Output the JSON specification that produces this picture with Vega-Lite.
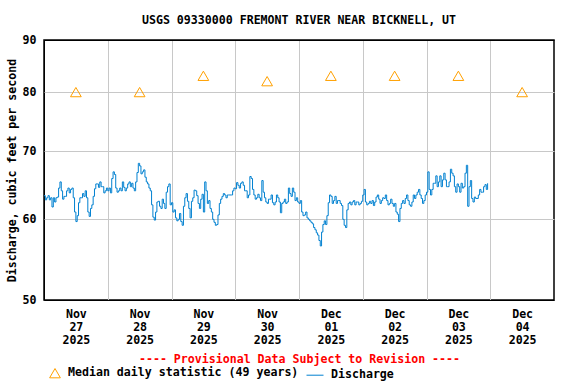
{
  "$schema": "https://vega.github.io/schema/vega-lite/v6.json",
  "width": 510,
  "height": 260,
  "autosize": {"type": "none"},
  "padding": {"left": 44, "top": 40, "right": 22, "bottom": 84},
  "title": {"text": "USGS 09330000 FREMONT RIVER NEAR BICKNELL, UT", "frame": "group", "anchor": "middle", "font": "DejaVu Sans Mono", "fontWeight": "bold", "fontSize": 11.6, "color": "black", "offset": 7},
  "datasets": {
    "q": [
      {"t":"2025-11-27T00:00","v":63.3},{"t":"2025-11-27T01:00","v":63.0},{"t":"2025-11-27T02:00","v":62.7},{"t":"2025-11-27T03:00","v":61.7},{"t":"2025-11-27T04:00","v":62.4},{"t":"2025-11-27T05:00","v":63.1},{"t":"2025-11-27T06:00","v":65.3},{"t":"2025-11-27T07:00","v":62.8},{"t":"2025-11-27T08:00","v":63.2},{"t":"2025-11-27T09:00","v":64.4},{"t":"2025-11-27T10:00","v":64.2},{"t":"2025-11-27T11:00","v":63.0},{"t":"2025-11-27T12:00","v":59.7},{"t":"2025-11-27T13:00","v":62.3},{"t":"2025-11-27T14:00","v":63.0},{"t":"2025-11-27T15:00","v":63.2},{"t":"2025-11-27T16:00","v":63.0},{"t":"2025-11-27T17:00","v":60.4},{"t":"2025-11-27T18:00","v":62.0},{"t":"2025-11-27T19:00","v":64.3},{"t":"2025-11-27T20:00","v":65.0},{"t":"2025-11-27T21:00","v":65.3},{"t":"2025-11-27T22:00","v":64.6},{"t":"2025-11-27T23:00","v":64.0},
      {"t":"2025-11-28T00:00","v":64.0},{"t":"2025-11-28T01:00","v":63.7},{"t":"2025-11-28T02:00","v":66.8},{"t":"2025-11-28T03:00","v":64.4},{"t":"2025-11-28T04:00","v":64.0},{"t":"2025-11-28T05:00","v":64.0},{"t":"2025-11-28T06:00","v":64.5},{"t":"2025-11-28T07:00","v":64.4},{"t":"2025-11-28T08:00","v":65.3},{"t":"2025-11-28T09:00","v":65.1},{"t":"2025-11-28T10:00","v":64.0},{"t":"2025-11-28T11:00","v":66.7},{"t":"2025-11-28T12:00","v":67.7},{"t":"2025-11-28T13:00","v":66.8},{"t":"2025-11-28T14:00","v":66.0},{"t":"2025-11-28T15:00","v":65.0},{"t":"2025-11-28T16:00","v":64.0},{"t":"2025-11-28T17:00","v":60.3},{"t":"2025-11-28T18:00","v":61.0},{"t":"2025-11-28T19:00","v":62.5},{"t":"2025-11-28T20:00","v":61.5},{"t":"2025-11-28T21:00","v":62.2},{"t":"2025-11-28T22:00","v":63.8},{"t":"2025-11-28T23:00","v":65.0},
      {"t":"2025-11-29T00:00","v":62.3},{"t":"2025-11-29T01:00","v":61.3},{"t":"2025-11-29T02:00","v":59.8},{"t":"2025-11-29T03:00","v":60.8},{"t":"2025-11-29T04:00","v":59.2},{"t":"2025-11-29T05:00","v":63.0},{"t":"2025-11-29T06:00","v":62.5},{"t":"2025-11-29T07:00","v":60.2},{"t":"2025-11-29T08:00","v":63.0},{"t":"2025-11-29T09:00","v":64.0},{"t":"2025-11-29T10:00","v":62.2},{"t":"2025-11-29T11:00","v":62.8},{"t":"2025-11-29T12:00","v":61.0},{"t":"2025-11-29T13:00","v":64.0},{"t":"2025-11-29T14:00","v":62.6},{"t":"2025-11-29T15:00","v":61.0},{"t":"2025-11-29T16:00","v":59.6},{"t":"2025-11-29T17:00","v":59.3},{"t":"2025-11-29T18:00","v":62.2},{"t":"2025-11-29T19:00","v":63.2},{"t":"2025-11-29T20:00","v":63.4},{"t":"2025-11-29T21:00","v":63.4},{"t":"2025-11-29T22:00","v":63.4},{"t":"2025-11-29T23:00","v":64.0},
      {"t":"2025-11-30T00:00","v":64.3},{"t":"2025-11-30T01:00","v":64.8},{"t":"2025-11-30T02:00","v":65.1},{"t":"2025-11-30T03:00","v":64.8},{"t":"2025-11-30T04:00","v":64.0},{"t":"2025-11-30T05:00","v":63.4},{"t":"2025-11-30T06:00","v":65.8},{"t":"2025-11-30T07:00","v":63.4},{"t":"2025-11-30T08:00","v":63.0},{"t":"2025-11-30T09:00","v":63.0},{"t":"2025-11-30T10:00","v":65.5},{"t":"2025-11-30T11:00","v":63.0},{"t":"2025-11-30T12:00","v":62.2},{"t":"2025-11-30T13:00","v":62.8},{"t":"2025-11-30T14:00","v":62.3},{"t":"2025-11-30T15:00","v":62.4},{"t":"2025-11-30T16:00","v":63.0},{"t":"2025-11-30T17:00","v":60.9},{"t":"2025-11-30T18:00","v":62.4},{"t":"2025-11-30T19:00","v":62.2},{"t":"2025-11-30T20:00","v":64.4},{"t":"2025-11-30T21:00","v":63.2},{"t":"2025-11-30T22:00","v":63.8},{"t":"2025-11-30T23:00","v":63.0},
      {"t":"2025-12-01T00:00","v":62.2},{"t":"2025-12-01T01:00","v":61.0},{"t":"2025-12-01T02:00","v":60.6},{"t":"2025-12-01T03:00","v":60.2},{"t":"2025-12-01T04:00","v":59.8},{"t":"2025-12-01T05:00","v":59.4},{"t":"2025-12-01T06:00","v":58.6},{"t":"2025-12-01T07:00","v":57.9},{"t":"2025-12-01T08:00","v":56.5},{"t":"2025-12-01T09:00","v":59.3},{"t":"2025-12-01T10:00","v":59.3},{"t":"2025-12-01T11:00","v":62.3},{"t":"2025-12-01T12:00","v":63.2},{"t":"2025-12-01T13:00","v":62.6},{"t":"2025-12-01T14:00","v":62.2},{"t":"2025-12-01T15:00","v":62.6},{"t":"2025-12-01T16:00","v":61.9},{"t":"2025-12-01T17:00","v":59.2},{"t":"2025-12-01T18:00","v":61.3},{"t":"2025-12-01T19:00","v":62.4},{"t":"2025-12-01T20:00","v":62.4},{"t":"2025-12-01T21:00","v":62.0},{"t":"2025-12-01T22:00","v":62.4},{"t":"2025-12-01T23:00","v":62.2},
      {"t":"2025-12-02T00:00","v":63.4},{"t":"2025-12-02T01:00","v":62.4},{"t":"2025-12-02T02:00","v":62.2},{"t":"2025-12-02T03:00","v":62.2},{"t":"2025-12-02T04:00","v":61.9},{"t":"2025-12-02T05:00","v":63.1},{"t":"2025-12-02T06:00","v":62.8},{"t":"2025-12-02T07:00","v":62.6},{"t":"2025-12-02T08:00","v":62.9},{"t":"2025-12-02T09:00","v":62.6},{"t":"2025-12-02T10:00","v":62.2},{"t":"2025-12-02T11:00","v":62.2},{"t":"2025-12-02T12:00","v":62.2},{"t":"2025-12-02T13:00","v":60.7},{"t":"2025-12-02T14:00","v":61.5},{"t":"2025-12-02T15:00","v":62.6},{"t":"2025-12-02T16:00","v":62.9},{"t":"2025-12-02T17:00","v":62.6},{"t":"2025-12-02T18:00","v":61.8},{"t":"2025-12-02T19:00","v":63.4},{"t":"2025-12-02T20:00","v":63.4},{"t":"2025-12-02T21:00","v":64.2},{"t":"2025-12-02T22:00","v":62.9},{"t":"2025-12-02T23:00","v":62.6},
      {"t":"2025-12-03T00:00","v":63.8},{"t":"2025-12-03T01:00","v":64.2},{"t":"2025-12-03T02:00","v":64.2},{"t":"2025-12-03T03:00","v":65.1},{"t":"2025-12-03T04:00","v":64.6},{"t":"2025-12-03T05:00","v":66.2},{"t":"2025-12-03T06:00","v":65.6},{"t":"2025-12-03T07:00","v":65.6},{"t":"2025-12-03T08:00","v":64.6},{"t":"2025-12-03T09:00","v":67.2},{"t":"2025-12-03T10:00","v":66.2},{"t":"2025-12-03T11:00","v":63.8},{"t":"2025-12-03T12:00","v":64.6},{"t":"2025-12-03T13:00","v":65.1},{"t":"2025-12-03T14:00","v":64.6},{"t":"2025-12-03T15:00","v":67.8},{"t":"2025-12-03T16:00","v":64.6},{"t":"2025-12-03T17:00","v":62.9},{"t":"2025-12-03T18:00","v":63.1},{"t":"2025-12-03T19:00","v":62.9},{"t":"2025-12-03T20:00","v":64.2},{"t":"2025-12-03T21:00","v":63.8},{"t":"2025-12-03T22:00","v":64.9},{"t":"2025-12-03T23:00","v":65.1},
      {"t":"2025-11-27T00:30","v":62.7},{"t":"2025-11-27T01:30","v":63.3},{"t":"2025-11-27T02:30","v":63.0},{"t":"2025-11-27T03:30","v":63.0},{"t":"2025-11-27T04:30","v":63.0},{"t":"2025-11-27T05:30","v":64.4},{"t":"2025-11-27T06:30","v":64.0},{"t":"2025-11-27T07:30","v":63.2},{"t":"2025-11-27T08:30","v":64.0},{"t":"2025-11-27T09:30","v":63.7},{"t":"2025-11-27T10:30","v":64.4},{"t":"2025-11-27T11:30","v":61.0},{"t":"2025-11-27T12:30","v":60.5},{"t":"2025-11-27T13:30","v":63.0},{"t":"2025-11-27T14:30","v":63.6},{"t":"2025-11-27T15:30","v":64.0},{"t":"2025-11-27T16:30","v":61.0},{"t":"2025-11-27T17:30","v":61.5},{"t":"2025-11-27T18:30","v":63.2},{"t":"2025-11-27T19:30","v":65.0},{"t":"2025-11-27T20:30","v":64.5},{"t":"2025-11-27T21:30","v":64.6},{"t":"2025-11-27T22:30","v":63.7},{"t":"2025-11-27T23:30","v":64.4},
      {"t":"2025-11-28T00:30","v":64.4},{"t":"2025-11-28T01:30","v":65.8},{"t":"2025-11-28T02:30","v":66.4},{"t":"2025-11-28T03:30","v":63.8},{"t":"2025-11-28T04:30","v":64.4},{"t":"2025-11-28T05:30","v":65.3},{"t":"2025-11-28T06:30","v":64.0},{"t":"2025-11-28T07:30","v":65.0},{"t":"2025-11-28T08:30","v":64.6},{"t":"2025-11-28T09:30","v":64.4},{"t":"2025-11-28T10:30","v":65.3},{"t":"2025-11-28T11:30","v":68.1},{"t":"2025-11-28T12:30","v":66.5},{"t":"2025-11-28T13:30","v":67.1},{"t":"2025-11-28T14:30","v":65.3},{"t":"2025-11-28T15:30","v":64.4},{"t":"2025-11-28T16:30","v":62.0},{"t":"2025-11-28T17:30","v":59.9},{"t":"2025-11-28T18:30","v":62.4},{"t":"2025-11-28T19:30","v":61.8},{"t":"2025-11-28T20:30","v":62.8},{"t":"2025-11-28T21:30","v":61.5},{"t":"2025-11-28T22:30","v":64.6},{"t":"2025-11-28T23:30","v":62.0},
      {"t":"2025-11-29T00:30","v":61.0},{"t":"2025-11-29T01:30","v":60.2},{"t":"2025-11-29T02:30","v":60.0},{"t":"2025-11-29T03:30","v":59.7},{"t":"2025-11-29T04:30","v":61.8},{"t":"2025-11-29T05:30","v":63.6},{"t":"2025-11-29T06:30","v":61.5},{"t":"2025-11-29T07:30","v":62.5},{"t":"2025-11-29T08:30","v":64.1},{"t":"2025-11-29T09:30","v":63.3},{"t":"2025-11-29T10:30","v":61.5},{"t":"2025-11-29T11:30","v":63.5},{"t":"2025-11-29T12:30","v":65.3},{"t":"2025-11-29T13:30","v":62.2},{"t":"2025-11-29T14:30","v":61.5},{"t":"2025-11-29T15:30","v":60.0},{"t":"2025-11-29T16:30","v":59.2},{"t":"2025-11-29T17:30","v":60.6},{"t":"2025-11-29T18:30","v":62.8},{"t":"2025-11-29T19:30","v":63.6},{"t":"2025-11-29T20:30","v":63.0},{"t":"2025-11-29T21:30","v":63.4},{"t":"2025-11-29T22:30","v":63.4},{"t":"2025-11-29T23:30","v":64.4},
      {"t":"2025-11-30T00:30","v":65.2},{"t":"2025-11-30T01:30","v":64.4},{"t":"2025-11-30T02:30","v":65.3},{"t":"2025-11-30T03:30","v":64.0},{"t":"2025-11-30T04:30","v":63.0},{"t":"2025-11-30T05:30","v":66.1},{"t":"2025-11-30T06:30","v":64.2},{"t":"2025-11-30T07:30","v":62.8},{"t":"2025-11-30T08:30","v":63.5},{"t":"2025-11-30T09:30","v":62.6},{"t":"2025-11-30T10:30","v":63.8},{"t":"2025-11-30T11:30","v":62.4},{"t":"2025-11-30T12:30","v":62.8},{"t":"2025-11-30T13:30","v":63.4},{"t":"2025-11-30T14:30","v":62.0},{"t":"2025-11-30T15:30","v":63.4},{"t":"2025-11-30T16:30","v":62.4},{"t":"2025-11-30T17:30","v":62.2},{"t":"2025-11-30T18:30","v":62.8},{"t":"2025-11-30T19:30","v":62.4},{"t":"2025-11-30T20:30","v":63.6},{"t":"2025-11-30T21:30","v":64.4},{"t":"2025-11-30T22:30","v":62.6},{"t":"2025-11-30T23:30","v":62.4},
      {"t":"2025-12-01T00:30","v":62.6},{"t":"2025-12-01T01:30","v":60.5},{"t":"2025-12-01T02:30","v":61.0},{"t":"2025-12-01T03:30","v":60.0},{"t":"2025-12-01T04:30","v":59.6},{"t":"2025-12-01T05:30","v":58.9},{"t":"2025-12-01T06:30","v":58.2},{"t":"2025-12-01T07:30","v":57.2},{"t":"2025-12-01T08:30","v":58.3},{"t":"2025-12-01T09:30","v":59.8},{"t":"2025-12-01T10:30","v":60.5},{"t":"2025-12-01T11:30","v":63.4},{"t":"2025-12-01T12:30","v":62.2},{"t":"2025-12-01T13:30","v":63.2},{"t":"2025-12-01T14:30","v":62.6},{"t":"2025-12-01T15:30","v":62.2},{"t":"2025-12-01T16:30","v":60.0},{"t":"2025-12-01T17:30","v":58.9},{"t":"2025-12-01T18:30","v":62.2},{"t":"2025-12-01T19:30","v":62.0},{"t":"2025-12-01T20:30","v":62.6},{"t":"2025-12-01T21:30","v":62.4},{"t":"2025-12-01T22:30","v":62.0},{"t":"2025-12-01T23:30","v":62.5},
      {"t":"2025-12-02T00:30","v":64.2},{"t":"2025-12-02T01:30","v":62.0},{"t":"2025-12-02T02:30","v":62.5},{"t":"2025-12-02T03:30","v":62.6},{"t":"2025-12-02T04:30","v":62.4},{"t":"2025-12-02T05:30","v":63.4},{"t":"2025-12-02T06:30","v":62.2},{"t":"2025-12-02T07:30","v":63.0},{"t":"2025-12-02T08:30","v":63.4},{"t":"2025-12-02T09:30","v":62.0},{"t":"2025-12-02T10:30","v":62.8},{"t":"2025-12-02T11:30","v":61.8},{"t":"2025-12-02T12:30","v":61.0},{"t":"2025-12-02T13:30","v":59.7},{"t":"2025-12-02T14:30","v":62.2},{"t":"2025-12-02T15:30","v":62.2},{"t":"2025-12-02T16:30","v":63.4},{"t":"2025-12-02T17:30","v":62.0},{"t":"2025-12-02T18:30","v":62.4},{"t":"2025-12-02T19:30","v":62.9},{"t":"2025-12-02T20:30","v":63.8},{"t":"2025-12-02T21:30","v":63.4},{"t":"2025-12-02T22:30","v":62.2},{"t":"2025-12-02T23:30","v":63.4},
      {"t":"2025-12-03T00:30","v":66.8},{"t":"2025-12-03T01:30","v":63.4},{"t":"2025-12-03T02:30","v":65.1},{"t":"2025-12-03T03:30","v":66.2},{"t":"2025-12-03T04:30","v":65.3},{"t":"2025-12-03T05:30","v":64.6},{"t":"2025-12-03T06:30","v":66.6},{"t":"2025-12-03T07:30","v":64.6},{"t":"2025-12-03T08:30","v":65.3},{"t":"2025-12-03T09:30","v":66.6},{"t":"2025-12-03T10:30","v":64.6},{"t":"2025-12-03T11:30","v":65.0},{"t":"2025-12-03T12:30","v":63.8},{"t":"2025-12-03T13:30","v":64.4},{"t":"2025-12-03T14:30","v":66.6},{"t":"2025-12-03T15:30","v":61.8},{"t":"2025-12-03T16:30","v":65.5},{"t":"2025-12-03T17:30","v":62.4},{"t":"2025-12-03T18:30","v":62.9},{"t":"2025-12-03T19:30","v":63.4},{"t":"2025-12-03T20:30","v":63.8},{"t":"2025-12-03T21:30","v":64.6},{"t":"2025-12-03T22:30","v":64.2}
    ],
    "m": [
      {"t":"2025-11-27T12:00","v":80,"s":"Median daily statistic (49 years)"},
      {"t":"2025-11-28T12:00","v":80,"s":"Median daily statistic (49 years)"},
      {"t":"2025-11-29T12:00","v":83,"s":"Median daily statistic (49 years)"},
      {"t":"2025-11-30T12:00","v":82,"s":"Median daily statistic (49 years)"},
      {"t":"2025-12-01T12:00","v":83,"s":"Median daily statistic (49 years)"},
      {"t":"2025-12-02T12:00","v":83,"s":"Median daily statistic (49 years)"},
      {"t":"2025-12-03T12:00","v":83,"s":"Median daily statistic (49 years)"},
      {"t":"2025-12-04T12:00","v":80,"s":"Median daily statistic (49 years)"}
    ]
  },
  "layer": [
    {
      "data": {"name": "q"},
      "mark": {"type": "line", "color": "#0080d0", "strokeWidth": 1, "interpolate": "step-after"},
      "encoding": {
        "x": {
          "field": "t", "type": "temporal",
          "scale": {"domain": [{"year": 2025, "month": 11, "date": 27}, {"year": 2025, "month": 12, "date": 5}]},
          "axis": {
            "values": [{"year": 2025, "month": 11, "date": 27}, {"year": 2025, "month": 11, "date": 28}, {"year": 2025, "month": 11, "date": 29}, {"year": 2025, "month": 11, "date": 30}, {"year": 2025, "month": 12, "date": 1}, {"year": 2025, "month": 12, "date": 2}, {"year": 2025, "month": 12, "date": 3}, {"year": 2025, "month": 12, "date": 4}],
            "labelExpr": "[timeFormat(datum.value, '%b'), timeFormat(datum.value, '%d'), timeFormat(datum.value, '%Y')]",
            "labelOffset": 31.875,
            "labelFlush": false,
            "labelOverlap": false,
            "labelPadding": 8,
            "labelLineHeight": 13,
            "labelBaseline": "top",
            "grid": true,
            "gridColor": {"condition": {"test": "datum.index == 0", "value": "black"}, "value": "#c8c8c8"},
            "title": "---- Provisional Data Subject to Revision ----",
            "titleColor": "red",
            "titlePadding": 8
          }
        },
        "y": {
          "field": "v", "type": "quantitative",
          "scale": {"type": "log", "domain": [50, 90], "nice": false, "zero": false},
          "axis": {
            "values": [50, 60, 70, 80, 90],
            "grid": true,
            "gridColor": {"condition": {"test": "datum.value == 50 || datum.value == 90", "value": "black"}, "value": "#c8c8c8"},
            "labelPadding": 8,
            "title": "Discharge, cubic feet per second",
            "titlePadding": 5
          }
        }
      }
    },
    {
      "data": {"name": "m"},
      "mark": {"type": "point", "filled": false, "strokeWidth": 1, "opacity": 1},
      "encoding": {
        "x": {"field": "t", "type": "temporal"},
        "y": {"field": "v", "type": "quantitative"},
        "color": {"field": "s", "type": "nominal", "scale": {"domain": ["Median daily statistic (49 years)", "Discharge"], "range": ["#ffa000", "#0080d0"]}, "legend": {"title": null, "orient": "none", "direction": "horizontal", "legendX": 5, "legendY": 326}},
        "shape": {"field": "s", "type": "nominal", "scale": {"domain": ["Median daily statistic (49 years)", "Discharge"], "range": ["triangle-up", "stroke"]}, "legend": {"title": null, "orient": "none", "direction": "horizontal", "legendX": 5, "legendY": 326}},
        "size": {"field": "s", "type": "nominal", "scale": {"domain": ["Median daily statistic (49 years)", "Discharge"], "range": [115, 289]}, "legend": {"title": null, "orient": "none", "direction": "horizontal", "legendX": 5, "legendY": 326}}
      }
    }
  ],
  "config": {
    "font": "DejaVu Sans Mono",
    "view": {"stroke": "black", "strokeWidth": 1.5},
    "axis": {
      "ticks": false,
      "domain": false,
      "gridWidth": 1,
      "labelFont": "DejaVu Sans Mono",
      "labelFontSize": 11.6,
      "labelFontWeight": "bold",
      "labelColor": "black",
      "titleFont": "DejaVu Sans Mono",
      "titleFontSize": 11.6,
      "titleFontWeight": "bold",
      "titleColor": "black"
    },
    "legend": {
      "labelFont": "DejaVu Sans Mono",
      "labelFontSize": 11.6,
      "labelFontWeight": "bold",
      "labelColor": "black",
      "labelLimit": 0,
      "symbolStrokeWidth": 1,
      "columnPadding": 5,
      "labelOffset": 7,
      "padding": 0
    }
  }
}
